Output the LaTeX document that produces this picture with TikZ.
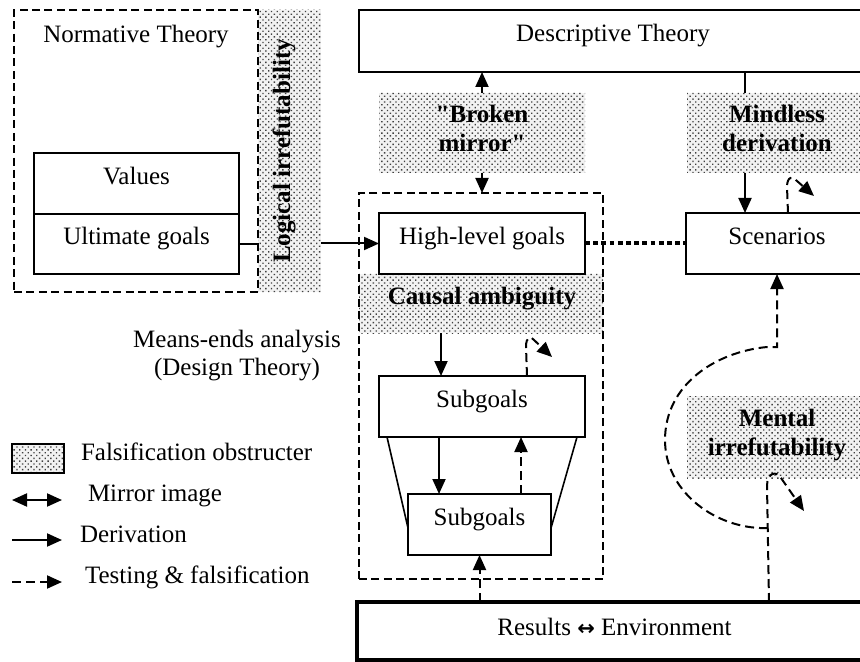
\documentclass[tikz,border=0pt]{standalone}
\usepackage{fontspec}
\setmainfont{Liberation Serif}[Ligatures=TeXOff]
\newfontfamily\arrowfont{DejaVu Sans}
\usetikzlibrary{arrows.meta,patterns.meta,calc}
\begin{document}
\begin{tikzpicture}[x=0.5pt,y=-0.5pt,
  font=\fontsize{12.5pt}{14.5pt}\selectfont,
  every node/.style={inner sep=0pt, outer sep=0pt},
  box/.style={draw, line width=0.9pt, text height=8.5pt, text depth=7.5pt},
  dbox/.style={draw, line width=0.9pt, dash pattern=on 4pt off 2.2pt},
  obst/.style={preaction={fill=black!5}, pattern={Dots[distance=2pt,radius=0.48pt,angle=45]}, pattern color=black!75},
  otext/.style={font=\fontsize{12.5pt}{14.5pt}\selectfont\bfseries, align=center},
  tip/.style={-{Triangle[length=7.5pt,width=6.5pt]}},
  plain/.style={line width=1pt},
  deriv/.style={line width=1pt, tip},
  test/.style={line width=1pt, dash pattern=on 4.5pt off 2.5pt, tip},
  ]
\useasboundingbox (0,0) rectangle (860,662);
\clip (0,0) rectangle (860,662);

% falsification obstructers (shaded)
\node[obst, minimum width=31.5pt, minimum height=141pt] (logic) at (289.5,151) {};
\node[obst, minimum width=103pt, minimum height=40pt] (broken) at (482,133) {};
\node[obst, minimum width=90pt, minimum height=40pt] (mind) at (777,133) {};
\node[obst, minimum width=122pt, minimum height=29.5pt] (causal) at (481,303.5) {};
\node[obst, minimum width=90pt, minimum height=41pt] (mental) at (777,437) {};

\node[otext, rotate=90, anchor=base] (logict) at (290,151) {Logical irrefutability};
\node[otext] (brokent) at (482,128) {"Broken\\mirror"};
\node[otext] (mindt) at (777,128) {Mindless\\derivation};
\node[otext, anchor=base] (causalt) at (482,305) {Causal ambiguity};
\node[otext] (mentalt) at (777,435) {Mental\\irrefutability};

% boxes
\node[dbox, minimum width=122pt, minimum height=141pt] (norm) at (136,151) {};
\node[anchor=base] (normt) at (136,43) {Normative Theory};
\node[box, minimum width=102.5pt, minimum height=30.5pt] (val) at (136.5,183.5) {Values};
\node[box, minimum width=102.5pt, minimum height=30pt] (ult) at (136.5,244) {Ultimate goals};
\node[box, minimum width=254pt, minimum height=31pt] (desc) at (613,41) {Descriptive Theory};
\node[dbox, minimum width=122pt, minimum height=193pt] (mid) at (481,386) {};
\node[box, minimum width=103pt, minimum height=30.5pt] (high) at (482,243.5) {High-level goals};
\node[box, minimum width=91pt, minimum height=30.5pt] (scen) at (777,243.5) {Scenarios};
\node[box, minimum width=103pt, minimum height=30.5pt] (sub1) at (482,406.5) {Subgoals};
\node[box, minimum width=71.5pt, minimum height=30.5pt] (sub2) at (479.5,524.5) {Subgoals};
\node[draw, line width=2.4pt, minimum width=257.5pt, minimum height=29pt, text height=8.5pt, text depth=4pt] (res) at (614.5,631) {Results {\arrowfont\bfseries\fontsize{10.5pt}{12pt}\selectfont ↔} Environment};

\node[anchor=base] (me1) at (237,347) {Means-ends analysis};
\node[anchor=base] (me2) at (237,375) {(Design Theory)};

% connectors
\draw[plain] (ult.east) -- (ult.east -| logic.west);
\draw[deriv] (high.west -| logic.east) -- (high.west);
\draw[deriv] (broken.north) -- (broken.north |- desc.south);
\draw[deriv] (broken.south) -- (broken.south |- mid.north);
\coordinate (dmx) at (745,0);
\draw[plain] (dmx |- desc.south) -- (dmx |- mind.north);
\draw[deriv] (dmx |- mind.south) -- (dmx |- scen.north);
\draw[line width=2pt, dash pattern=on 2.4pt off 1.7pt] (high.east) -- (scen.west);
\coordinate (cx) at (441,0);
\draw[deriv] (cx |- causal.south) -- (cx |- sub1.north);
\coordinate (cx2) at (439,0);
\draw[deriv] (cx2 |- sub1.south) -- (cx2 |- sub2.north);
\coordinate (tx) at (521,0);
\draw[test] (tx |- sub2.north) -- (tx |- sub1.south);
\draw[test] (sub2.south |- res.north) -- (sub2.south);

\draw[line width=0.8pt] ($(sub1.south west)+(8,0)$) -- ($(sub2.west)+(0,3.5)$);
\draw[line width=0.8pt] ($(sub1.south east)+(-8,0)$) -- ($(sub2.east)+(0,3.5)$);

% bounced tests
\coordinate (b1) at (527,0);
\coordinate (b1t) at (552,357);
\draw[test] (b1 |- sub1.north) -- (526,347) .. controls (526,336) and (531,336) .. (534,340) -- (b1t);
\coordinate (b2) at (788,0);
\coordinate (b2t) at (814,196);
\draw[test] (b2 |- scen.north) -- (787,187) .. controls (787,176) and (793,176) .. (797,181) -- (b2t);
\coordinate (b3) at (769,0);
\coordinate (b3t) at (804,511);
\draw[test] (b3 |- res.north) -- (767,486) .. controls (767,473) and (776,470) .. (781,478) -- (b3t);

\coordinate (jn) at (768,528);
\coordinate (k1) at (778,347);
\draw[test] (jn) -- (760,528) .. controls (712,526) and (665,490) .. (665,440) .. controls (665,385) and (715,352) .. (767,347) -- (scen.south |- k1) -- (scen.south);

% legend
\node[draw, line width=0.9pt, obst, minimum width=26pt, minimum height=14.5pt] (lg1) at (38,458.5) {};
\node[anchor=base west] (lt1) at (81,460) {Falsification obstructer};
\coordinate (la2) at (12,500); \coordinate (lb2) at (62,500);
\draw[line width=1pt, {Triangle[length=7.5pt,width=6.5pt]}-{Triangle[length=7.5pt,width=6.5pt]}] (la2) -- (lb2);
\node[anchor=base west] (lt2) at (88,501) {Mirror image};
\coordinate (la3) at (12,540); \coordinate (lb3) at (62,540);
\draw[deriv] (la3) -- (lb3);
\node[anchor=base west] (lt3) at (80,542) {Derivation};
\coordinate (la4) at (12,582); \coordinate (lb4) at (62,582);
\draw[test] (la4) -- (lb4);
\node[anchor=base west] (lt4) at (85,583) {Testing \& falsification};
\end{tikzpicture}
\end{document}
